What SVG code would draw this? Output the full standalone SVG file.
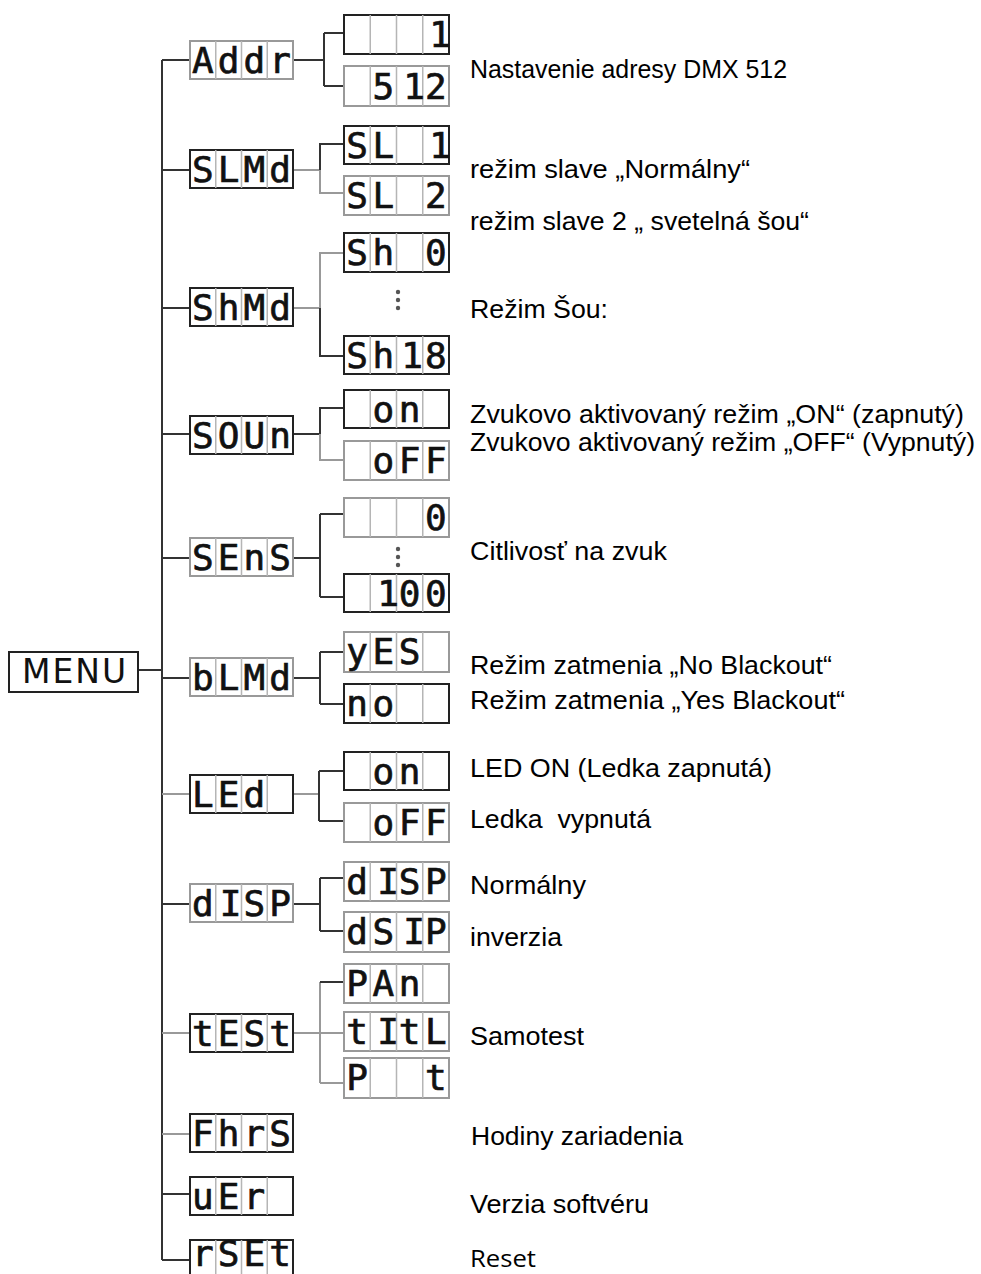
<svg xmlns="http://www.w3.org/2000/svg" width="981" height="1274" viewBox="0 0 981 1274">
<style>
.bg{fill:#fff}
.bd{fill:none;stroke:#222;stroke-width:2}
.bl{fill:none;stroke:#999;stroke-width:2}
.cell{fill:none;stroke:#b5b5b5;stroke-width:1.5}
.seg{font-family:"DejaVu Sans Mono",monospace;font-size:36px;fill:#111;stroke:#111;stroke-width:0.7;text-anchor:middle}
.lbl{font-family:"Liberation Sans",Arial,sans-serif;font-size:25.5px;fill:#000}
.rs{font-family:"Open Sans","Liberation Sans",sans-serif;font-size:23px;fill:#000}
.menu{font-family:"DejaVu Sans",sans-serif;font-size:33px;fill:#111;letter-spacing:2px}
.cd{fill:none;stroke:#333;stroke-width:2}
.cl{fill:none;stroke:#999;stroke-width:2}
.dot{fill:#555}
</style>
<rect class="bg" x="0" y="0" width="981" height="1274"/>

<g id="connectors">
  <path class="cd" d="M138 670H162M162 60V1260"/>
  <path class="cd" d="M162 60H190M162 170H190M162 308H190M162 434H190M162 558H190M162 678H190M162 904H190M162 1194H190M162 1260H190"/>
  <path class="cl" d="M162 794H190M162 1033H190M162 1134H190"/>
  <path class="cd" d="M293 60H324M324 33V86M324 33H344M324 86H344"/>
  <path class="cl" d="M293 170H320M320 170V193H344"/>
  <path class="cd" d="M320 170V144H344"/>
  <path class="cl" d="M293 308H320M320 308V253H344"/>
  <path class="cd" d="M320 308V356H344"/>
  <path class="cd" d="M293 434H320M320 434V408H344"/>
  <path class="cl" d="M320 434V460H344"/>
  <path class="cd" d="M293 558H320M320 514V597M320 514H344M320 597H344"/>
  <path class="cd" d="M293 678H320M320 652V704M320 652H344M320 704H344"/>
  <path class="cl" d="M293 794H319"/>
  <path class="cd" d="M319 771V821M319 771H344M319 821H344"/>
  <path class="cd" d="M293 904H320M320 878V931M320 878H344M320 931H344"/>
  <path class="cl" d="M293 1033H344M320 982V1083M320 1083H344"/>
  <path class="cd" d="M320 982H344"/>
</g>

<g id="menu">
  <rect class="bd" x="9" y="652" width="129" height="40"/>
  <text class="menu" x="22" y="683">MENU</text>
</g>

<g id="n-addr">
  <rect class="bl" x="190" y="41" width="103" height="38"/>
  <path class="cell" d="M215.75 41V79M241.5 41V79M267.25 41V79"/>
  <text class="seg" x="202.9 228.6 254.4 280.1" y="73">Addr</text>
</g>
<g id="n-slmd">
  <rect class="bd" x="190" y="150" width="103" height="38"/>
  <path class="cell" d="M215.75 150V188M241.5 150V188M267.25 150V188"/>
  <text class="seg" x="202.9 228.6 254.4 280.1" y="182">SLMd</text>
</g>
<g id="n-shmd">
  <rect class="bd" x="190" y="288" width="103" height="38"/>
  <path class="cell" d="M215.75 288V326M241.5 288V326M267.25 288V326"/>
  <text class="seg" x="202.9 228.6 254.4 280.1" y="320">ShMd</text>
</g>
<g id="n-soun">
  <rect class="bd" x="190" y="416" width="103" height="38"/>
  <path class="cell" d="M215.75 416V454M241.5 416V454M267.25 416V454"/>
  <text class="seg" x="202.9 228.6 254.4 280.1" y="448">SOUn</text>
</g>
<g id="n-sens">
  <rect class="bl" x="190" y="538" width="103" height="38"/>
  <path class="cell" d="M215.75 538V576M241.5 538V576M267.25 538V576"/>
  <text class="seg" x="202.9 228.6 254.4 280.1" y="570">SEnS</text>
</g>
<g id="n-blmd">
  <rect class="bl" x="190" y="658" width="103" height="38"/>
  <path class="cell" d="M215.75 658V696M241.5 658V696M267.25 658V696"/>
  <text class="seg" x="202.9 228.6 254.4 280.1" y="690">bLMd</text>
</g>
<g id="n-led">
  <rect class="bd" x="190" y="775" width="103" height="38"/>
  <path class="cell" d="M215.75 775V813M241.5 775V813M267.25 775V813"/>
  <text class="seg" x="202.9 228.6 254.4" y="807">LEd</text>
</g>
<g id="n-disp">
  <rect class="bl" x="190" y="884" width="103" height="38"/>
  <path class="cell" d="M215.75 884V922M241.5 884V922M267.25 884V922"/>
  <text class="seg" x="202.9 230.6 254.4 280.1" y="916">dISP</text>
</g>
<g id="n-test">
  <rect class="bd" x="190" y="1014" width="103" height="38"/>
  <path class="cell" d="M215.75 1014V1052M241.5 1014V1052M267.25 1014V1052"/>
  <text class="seg" x="202.9 228.6 254.4 280.1" y="1046">tESt</text>
</g>
<g id="n-fhrs">
  <rect class="bd" x="190" y="1114" width="103" height="38"/>
  <path class="cell" d="M215.75 1114V1152M241.5 1114V1152M267.25 1114V1152"/>
  <text class="seg" x="202.9 228.6 254.4 280.1" y="1146">FhrS</text>
</g>
<g id="n-uer">
  <rect class="bd" x="190" y="1177" width="103" height="38"/>
  <path class="cell" d="M215.75 1177V1215M241.5 1177V1215M267.25 1177V1215"/>
  <text class="seg" x="202.9 228.6 254.4" y="1209">uEr</text>
</g>
<g id="n-rset">
  <rect class="bd" x="190" y="1240" width="103" height="38"/>
  <path class="cell" d="M215.75 1240V1278M241.5 1240V1278M267.25 1240V1278"/>
  <text class="seg" x="202.9 228.6 254.4 280.1" y="1266" font-size="32">rSEt</text>
</g>

<g id="s-addr-1">
  <rect class="bd" x="344" y="15" width="105" height="39"/>
  <path class="cell" d="M370.25 15V54M396.5 15V54M422.75 15V54"/>
  <text class="seg" x="440" y="47">1</text>
</g>
<g id="s-addr-512">
  <rect class="bl" x="344" y="66" width="105" height="40"/>
  <path class="cell" d="M370.25 66V106M396.5 66V106M422.75 66V106"/>
  <text class="seg" x="383.4 414 435.9" y="99">512</text>
</g>
<g id="s-sl1">
  <rect class="bd" x="344" y="126" width="105" height="38"/>
  <path class="cell" d="M370.25 126V164M396.5 126V164M422.75 126V164"/>
  <text class="seg" x="357.1 383.4 440" y="158">SL1</text>
</g>
<g id="s-sl2">
  <rect class="bl" x="344" y="176" width="105" height="39"/>
  <path class="cell" d="M370.25 176V215M396.5 176V215M422.75 176V215"/>
  <text class="seg" x="357.1 383.4 435.9" y="208">SL2</text>
</g>
<g id="s-sh0">
  <rect class="bd" x="344" y="233" width="105" height="39"/>
  <path class="cell" d="M370.25 233V272M396.5 233V272M422.75 233V272"/>
  <text class="seg" x="357.1 383.4 435.9" y="265">Sh0</text>
</g>
<g id="s-shdots">
  <circle class="dot" cx="398" cy="292" r="2.2"/>
  <circle class="dot" cx="398" cy="300" r="2.2"/>
  <circle class="dot" cx="398" cy="308" r="2.2"/>
</g>
<g id="s-sh18">
  <rect class="bd" x="344" y="336" width="105" height="38"/>
  <path class="cell" d="M370.25 336V374M396.5 336V374M422.75 336V374"/>
  <text class="seg" x="357.1 383.4 412 435.9" y="368">Sh18</text>
</g>
<g id="s-snd-on">
  <rect class="bd" x="344" y="390" width="105" height="38"/>
  <path class="cell" d="M370.25 390V428M396.5 390V428M422.75 390V428"/>
  <text class="seg" x="383.4 409.6" y="422">on</text>
</g>
<g id="s-snd-off">
  <rect class="bl" x="344" y="441" width="105" height="39"/>
  <path class="cell" d="M370.25 441V480M396.5 441V480M422.75 441V480"/>
  <text class="seg" x="383.4 409.6 435.9" y="473">oFF</text>
</g>
<g id="s-sens-0">
  <rect class="bl" x="344" y="498" width="105" height="39"/>
  <path class="cell" d="M370.25 498V537M396.5 498V537M422.75 498V537"/>
  <text class="seg" x="435.9" y="530">0</text>
</g>
<g id="s-sensdots">
  <circle class="dot" cx="398" cy="549" r="2.2"/>
  <circle class="dot" cx="398" cy="557" r="2.2"/>
  <circle class="dot" cx="398" cy="565" r="2.2"/>
</g>
<g id="s-sens-100">
  <rect class="bd" x="344" y="574" width="105" height="38"/>
  <path class="cell" d="M370.25 574V612M396.5 574V612M422.75 574V612"/>
  <text class="seg" x="388 409.6 435.9" y="606">100</text>
</g>
<g id="s-yes">
  <rect class="bl" x="344" y="632" width="105" height="40"/>
  <path class="cell" d="M370.25 632V672M396.5 632V672M422.75 632V672"/>
  <text class="seg" x="357.1 383.4 409.6" y="664">yES</text>
</g>
<g id="s-no">
  <rect class="bd" x="344" y="684" width="105" height="39"/>
  <path class="cell" d="M370.25 684V723M396.5 684V723M422.75 684V723"/>
  <text class="seg" x="357.1 383.4" y="716">no</text>
</g>
<g id="s-led-on">
  <rect class="bd" x="344" y="752" width="105" height="38"/>
  <path class="cell" d="M370.25 752V790M396.5 752V790M422.75 752V790"/>
  <text class="seg" x="383.4 409.6" y="784">on</text>
</g>
<g id="s-led-off">
  <rect class="bl" x="344" y="803" width="105" height="39"/>
  <path class="cell" d="M370.25 803V842M396.5 803V842M422.75 803V842"/>
  <text class="seg" x="383.4 409.6 435.9" y="835">oFF</text>
</g>
<g id="s-disp">
  <rect class="bl" x="344" y="862" width="105" height="39"/>
  <path class="cell" d="M370.25 862V901M396.5 862V901M422.75 862V901"/>
  <text class="seg" x="357.1 388 409.6 435.9" y="894">dISP</text>
</g>
<g id="s-dsip">
  <rect class="bl" x="344" y="912" width="105" height="40"/>
  <path class="cell" d="M370.25 912V952M396.5 912V952M422.75 912V952"/>
  <text class="seg" x="357.1 383.4 414 435.9" y="944">dSIP</text>
</g>
<g id="s-pan">
  <rect class="bl" x="344" y="964" width="105" height="39"/>
  <path class="cell" d="M370.25 964V1003M396.5 964V1003M422.75 964V1003"/>
  <text class="seg" x="357.1 383.4 409.6" y="996">PAn</text>
</g>
<g id="s-titl">
  <rect class="bl" x="344" y="1012" width="105" height="39"/>
  <path class="cell" d="M370.25 1012V1051M396.5 1012V1051M422.75 1012V1051"/>
  <text class="seg" x="357.1 388 409.6 435.9" y="1044">tItL</text>
</g>
<g id="s-pt">
  <rect class="bl" x="344" y="1058" width="105" height="40"/>
  <path class="cell" d="M370.25 1058V1098M396.5 1058V1098M422.75 1058V1098"/>
  <text class="seg" x="357.1 435.9" y="1090">Pt</text>
</g>

<g id="labels">
  <text class="lbl" x="470" y="78" textLength="317" lengthAdjust="spacingAndGlyphs">Nastavenie adresy DMX 512</text>
  <text class="lbl" x="470" y="178" textLength="280" lengthAdjust="spacingAndGlyphs">režim slave „Normálny“</text>
  <text class="lbl" x="470" y="230" textLength="339" lengthAdjust="spacingAndGlyphs">režim slave 2 „ svetelná šou“</text>
  <text class="lbl" x="470" y="318" textLength="138" lengthAdjust="spacingAndGlyphs">Režim Šou:</text>
  <text class="lbl" x="470" y="423" textLength="494" lengthAdjust="spacingAndGlyphs">Zvukovo aktivovaný režim „ON“ (zapnutý)</text>
  <text class="lbl" x="470" y="451" textLength="505" lengthAdjust="spacingAndGlyphs">Zvukovo aktivovaný režim „OFF“ (Vypnutý)</text>
  <text class="lbl" x="470" y="560" textLength="197" lengthAdjust="spacingAndGlyphs">Citlivosť na zvuk</text>
  <text class="lbl" x="470" y="674" textLength="362" lengthAdjust="spacingAndGlyphs">Režim zatmenia „No Blackout“</text>
  <text class="lbl" x="470" y="709" textLength="375" lengthAdjust="spacingAndGlyphs">Režim zatmenia „Yes Blackout“</text>
  <text class="lbl" x="470" y="777" textLength="302" lengthAdjust="spacingAndGlyphs">LED ON (Ledka zapnutá)</text>
  <text class="lbl" x="470" y="828" xml:space="preserve" textLength="181" lengthAdjust="spacingAndGlyphs">Ledka  vypnutá</text>
  <text class="lbl" x="470" y="894" textLength="116" lengthAdjust="spacingAndGlyphs">Normálny</text>
  <text class="lbl" x="470" y="946" textLength="92" lengthAdjust="spacingAndGlyphs">inverzia</text>
  <text class="lbl" x="470" y="1045" textLength="114" lengthAdjust="spacingAndGlyphs">Samotest</text>
  <text class="lbl" x="471" y="1145" textLength="212" lengthAdjust="spacingAndGlyphs">Hodiny zariadenia</text>
  <text class="lbl" x="470" y="1213" textLength="179" lengthAdjust="spacingAndGlyphs">Verzia softvéru</text>
  <text class="rs" x="470" y="1267" textLength="66" lengthAdjust="spacingAndGlyphs">Reset</text>
</g>
</svg>
